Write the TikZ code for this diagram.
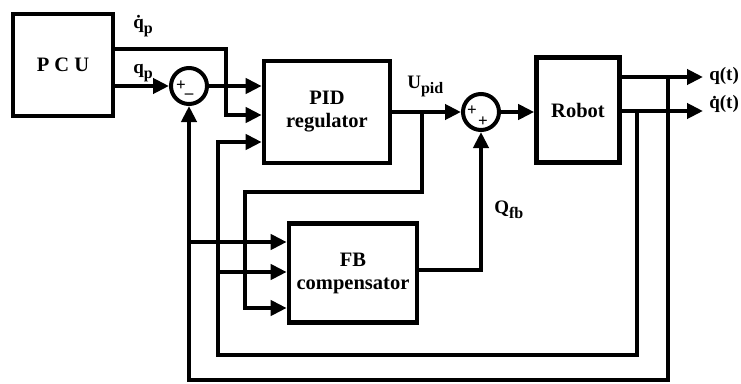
\documentclass[tikz,border=0pt]{standalone}
\usepackage{fontspec}
\setmainfont{Liberation Serif}
\usetikzlibrary{arrows.meta}

\newcommand\lowsub[1]{\raisebox{-5pt}{\fontsize{16}{16}\selectfont #1}}

\begin{document}
\begin{tikzpicture}[x=1pt, y=-1pt, line width=4.6pt,
    block/.style={draw, rectangle, align=center, inner sep=0pt,
                  font=\fontsize{20.5}{23}\selectfont\bfseries},
    sumjn/.style={draw, circle, minimum size=36pt, inner sep=0pt, line width=4pt},
    sgn/.style={font=\fontsize{17}{17}\selectfont\bfseries, inner sep=0pt},
    lbl/.style={font=\fontsize{19}{19}\selectfont\bfseries, inner sep=0pt},
    sig/.style={-{Triangle[length=16pt, width=15pt]}}]
  \useasboundingbox (0,0) rectangle (741,383);

  \node[block, minimum width=100pt, minimum height=102pt] (pcu) at (63,65) {P C U};
  \node[sumjn] (s1) at (189,86) {};
  \node[block, minimum width=126pt, minimum height=102pt] (pid) at (327,112) {PID\\regulator};
  \node[sumjn] (s2) at (481,112) {};
  \node[block, minimum width=83pt, minimum height=105pt] (robot) at (578,110) {Robot};
  \node[block, minimum width=128pt, minimum height=99pt] (fb) at (353,273) {FB\\compensator};

  \node[sgn] (s1p) at (181,86) {+};
  \node[sgn] (s1m) at (189,96) {--};
  \node[sgn] (s2p) at (472,111) {+};
  \node[sgn] (s2q) at (483,122) {+};

  \coordinate (qt) at (703,77);
  \coordinate (qdt) at (703,111);

  \draw[sig] (pcu.east |- s1) -- (s1.west);
  \draw[sig] (pcu.east |- 0,49) -- (226,49) -- (226,115) -- (pid.west |- 0,115);
  \draw[sig] (s1.east) -- (pid.west |- s1);
  \draw[sig] (pid.east |- s2) -- (s2.west);
  \draw[sig] (s2.east) -- (robot.west |- s2);
  \draw[sig] (robot.east |- qt) -- (qt);
  \draw[sig] (robot.east |- qdt) -- (qdt);
  \draw[sig] (668,77) -- (668,380) -- (s1.south |- 0,380) -- (s1.south);
  \draw[sig] (s1.south |- 0,242) -- (fb.west |- 0,242);
  \draw[sig] (637,111) -- (637,355) -- (218,355) -- (218,142) -- (pid.west |- 0,142);
  \draw[sig] (218,272) -- (fb.west |- 0,272);
  \draw[sig] (422,112) |- (245,192) -- (245,308) -- (fb.west |- 0,308);
  \draw[sig] (fb.east |- 0,270) -| (s2.south);

  \node[lbl, anchor=base west] (qdp) at (131,28) {\.{q}\lowsub{p}};
  \node[lbl, anchor=base west] (qp) at (131,73) {q\lowsub{p}};
  \node[lbl, anchor=base west] (upid) at (405,88) {U\lowsub{pid}};
  \node[lbl, anchor=base west] (qfb) at (492,213) {Q\lowsub{fb}};
  \node[lbl, anchor=west] (qtl) at (707,76) {q(t)};
  \node[lbl, anchor=west] (qdtl) at (707,104) {\.{q}(t)};
\end{tikzpicture}
\end{document}
